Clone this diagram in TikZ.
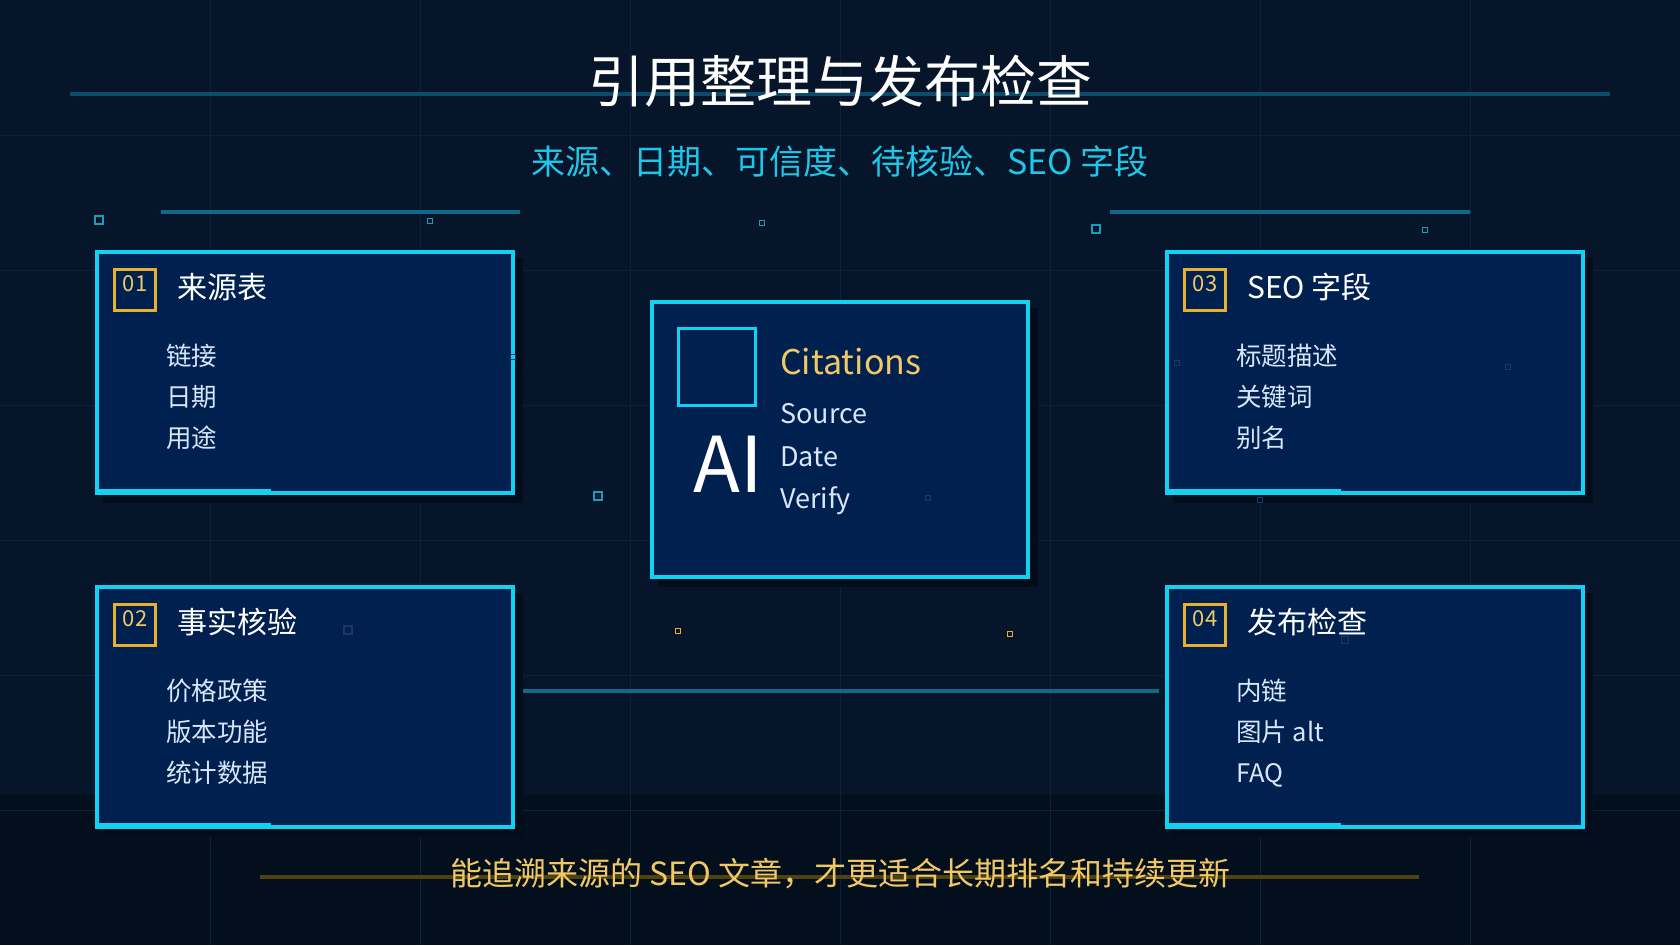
\documentclass[tikz,border=0pt]{standalone}
\usepackage{fontspec}
\setmainfont{Noto Sans CJK SC}
\usetikzlibrary{calc}
\definecolor{bgc}{HTML}{061529}
\definecolor{bandc}{HTML}{030F1C}
\definecolor{gridc}{HTML}{0A223C}
\definecolor{boxfill}{HTML}{00204F}
\definecolor{cyanc}{HTML}{12D2F2}
\definecolor{linec}{HTML}{0F6A8A}
\definecolor{titleline}{HTML}{0C4C68}
\definecolor{orangec}{HTML}{E8B030}
\definecolor{goldc}{HTML}{F2C866}
\definecolor{itemc}{HTML}{D8E6F8}
\definecolor{subc}{HTML}{1EC6E8}
\definecolor{shadowc}{HTML}{020C1A}
\definecolor{olivec}{HTML}{4E420E}
\definecolor{faintc}{HTML}{1A3A66}
\newcommand\fs[1]{\fontsize{#1}{#1}\selectfont}
\newcommand\sq[4]{\draw[#4] ({#1-#3/2},{#2-#3/2}) rectangle ({#1+#3/2},{#2+#3/2});}
\newcommand\card[9]{%
  \fill[shadowc] ({#2+8},{#3+8}) rectangle ({#2+428},{#3+#4+8});
  \node[cardbox, minimum height={(#4-4)*1pt}] (#1) at ({#2+210},{#3+#4/2}) {};
  \fill[cyanc] (#2,{#3+#4-6}) rectangle ({#2+176},{#3+#4});
  \node[numbox] (#1n) at ({#2+40},{#3+40}) {};
  \node[numtext, anchor=base] (#1d) at ({#2+40},{#3+41}) {#5};
  \node[cardtitle, anchor=base west] (#1t) at ({#2+82},{#3+48}) {#6};
  \node[item, anchor=base west] (#1a) at ({#2+71},{#3+115}) {#7};
  \node[item, anchor=base west] (#1b) at ({#2+71},{#3+156}) {#8};
  \node[item, anchor=base west] (#1c) at ({#2+71},{#3+197}) {#9};
}
\begin{document}
\begin{tikzpicture}[x=1pt,y=-1pt,
  cardbox/.style={draw=cyanc, line width=4pt, fill=boxfill, minimum width=416pt, inner sep=0pt},
  numbox/.style={draw=orangec, line width=3pt, minimum size=41pt, inner sep=0pt},
  numtext/.style={text=goldc, font=\fs{22}, inner sep=0pt},
  cardtitle/.style={text=white, font=\fs{30}, inner sep=0pt},
  item/.style={text=itemc, font=\fs{25.5}, inner sep=0pt},
  citem/.style={text=itemc, font=\fs{27}, inner sep=0pt, anchor=base west},
  conn/.style={draw=linec, line width=4pt},
  deco/.style={draw=subc!80!black, line width=1.8pt},
  faint/.style={draw=faintc, line width=1.5pt},
  odeco/.style={draw=orangec, line width=1.5pt}]
\useasboundingbox (0,0) rectangle (1680,945);
\fill[bgc] (0,0) rectangle (1680,945);
\fill[bandc] (0,795) rectangle (1680,945);
\foreach \i in {1,...,7} \draw[gridc, line width=1pt] (210*\i,0) -- (210*\i,945);
\foreach \j in {1,...,6} \draw[gridc, line width=1pt] (0,135*\j) -- (1680,135*\j);
% header
\draw[titleline, line width=4pt] (70,94) -- (1610,94);
\node[text=white, font=\fs{56}, inner sep=0pt, anchor=base] (title) at (840,102) {引用整理与发布检查};
\node[text=subc, font=\fs{34}, inner sep=0pt, anchor=base] (sub) at (840,174) {来源、日期、可信度、待核验、SEO 字段};
\draw[linec, line width=4pt] (161,212) -- (520,212);
\draw[linec, line width=4pt] (1110,212) -- (1470,212);
% cards
\card{b1}{95}{250}{245}{01}{来源表}{链接}{日期}{用途}
\card{b2}{95}{585}{244}{02}{事实核验}{价格政策}{版本功能}{统计数据}
\card{b3}{1165}{250}{245}{03}{SEO 字段}{标题描述}{关键词}{别名}
\card{b4}{1165}{585}{244}{04}{发布检查}{内链}{图片 alt}{FAQ}
% connector
\draw[conn] ([shift={(8,-16)}]b2.east) -- ([shift={(-6,-16)}]b4.west);
% center box
\fill[shadowc] (658,308) rectangle (1038,587);
\node[cardbox, minimum width=376pt, minimum height=275pt] (c) at (840,439.5) {};
\node[draw=cyanc, line width=3pt, minimum size=77pt, inner sep=0pt] (csq) at (717,367) {};
\node[text=white, font=\fs{77}, inner sep=0pt, anchor=base west] (ai) at (693,492) {AI};
\node[text=goldc, font=\fs{34}, inner sep=0pt, anchor=base west] (cit) at (780,374) {Citations};
\node[citem] (src) at (780,423) {Source};
\node[citem] (dat) at (780,466) {Date};
\node[citem] (ver) at (780,508) {Verify};
% bottom
\draw[olivec, line width=4pt] (260,877) -- (1419,877);
\node[text=goldc, font=\fs{32}, inner sep=0pt, anchor=base] (foot) at (840,885) {能追溯来源的 SEO 文章，才更适合长期排名和持续更新};
% decorations
\sq{99}{220}{8}{deco}
\sq{430}{221}{5}{deco}
\sq{762}{223}{5}{deco}
\sq{1096}{229}{8}{deco}
\sq{1425}{230}{5}{deco}
\sq{598}{496}{8}{deco}
\sq{678}{631}{5}{odeco}
\sq{1010}{634}{5}{odeco}
\sq{348}{630}{8}{faint}
\sq{1177}{363}{5}{faint}
\sq{1508}{367}{5}{faint}
\sq{1260}{500}{5}{faint}
\sq{928}{498}{5}{faint}
\sq{1345}{640}{7}{faint}
\sq{513}{357}{5}{faint}
\end{tikzpicture}
\end{document}
